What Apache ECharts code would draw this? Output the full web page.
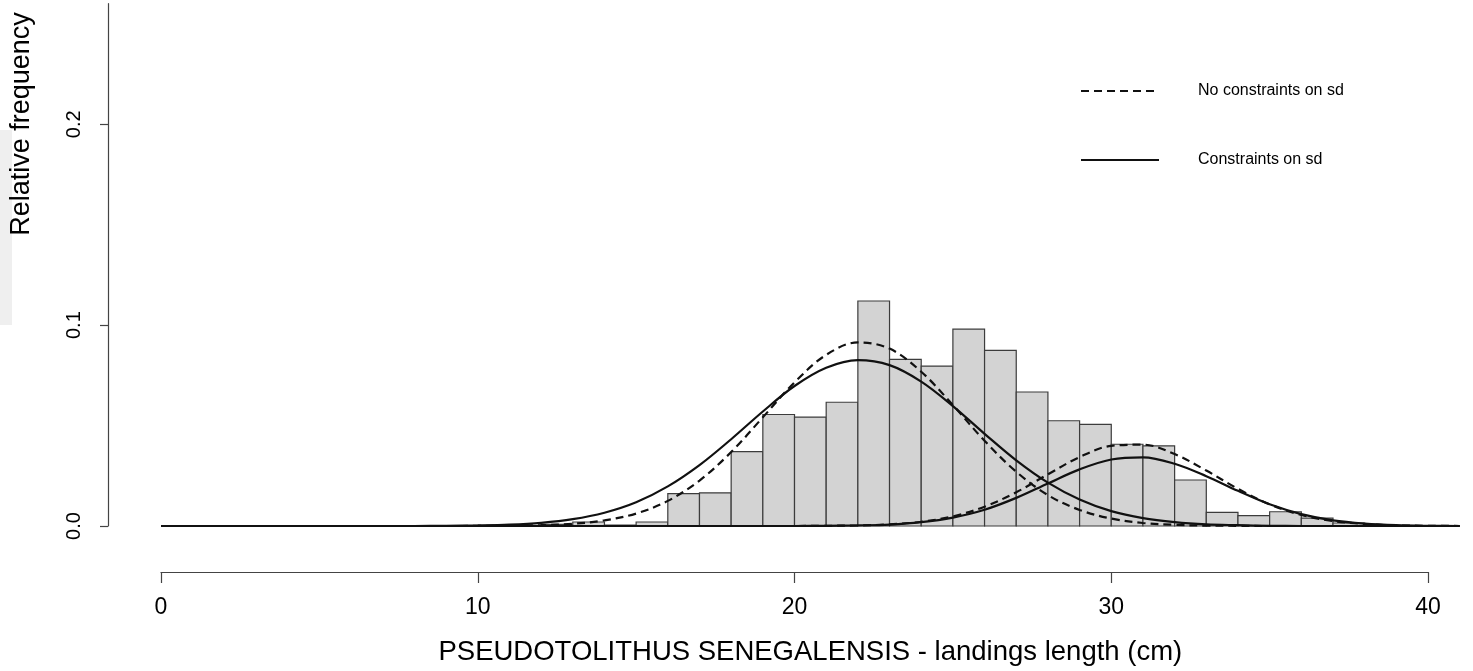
<!DOCTYPE html>
<html>
<head>
<meta charset="utf-8">
<script src="https://cdn.jsdelivr.net/npm/echarts@6/dist/echarts.min.js"></script>
<style>
html,body{margin:0;padding:0;background:#fff;overflow:hidden;}
#chart{width:1473px;height:671px;}
</style>
</head>
<body>
<div id="chart"></div>
<script>
// ---- data ----
const binStart = [12,13,14,15,16,17,18,19,20,21,22,23,24,25,26,27,28,29,30,31,32,33,34,35,36,37];
const relFreq  = [0.0008,0.002,0.0005,0.002,0.0161,0.0165,0.037,0.0555,0.0542,0.0616,0.112,0.0829,0.0796,0.098,0.0874,0.0667,0.0524,0.0506,0.0407,0.0399,0.0229,0.0068,0.0052,0.0071,0.0039,0.0015];

const curveX = [0,1,2,3,4,5,6,7,8,9,10,11,12,13,14,15,16,17,18,19,20,21,22,23,24,25,26,27,28,29,30,31,32,33,34,35,36,37,38,39,40,41];
// dashed: no constraints on sd
const freeComp1 = [0,0,0,0,0,0,0,0,0,0,0.00004,0.00013,0.0004,0.0011,0.0028,0.0062,0.0125,0.0226,0.0368,0.0541,0.0715,0.0852,0.0914,0.0883,0.0768,0.0602,0.0424,0.0270,0.0154,0.0080,0.0037,0.0015,0.0006,0.0002,0.0001,0,0,0,0,0,0,0];
const freeComp2 = [0,0,0,0,0,0,0,0,0,0,0,0,0,0,0,0,0,0,0,0,0,0.0001,0.0003,0.0008,0.0021,0.0048,0.0096,0.0168,0.0257,0.0343,0.0399,0.0405,0.0358,0.0276,0.0185,0.0108,0.0055,0.0025,0.0010,0.0003,0.0001,0];
// solid: constraints on sd
const consComp1 = [0,0,0,0,0,0,0,0,0,0.0001,0.0003,0.0007,0.0016,0.0034,0.0066,0.0118,0.0197,0.0303,0.0432,0.0570,0.0697,0.0788,0.0826,0.0801,0.0719,0.0597,0.0459,0.0327,0.0216,0.0132,0.0074,0.0039,0.0019,0.0008,0.0004,0.0001,0,0,0,0,0,0];
const consComp2 = [0,0,0,0,0,0,0,0,0,0,0,0,0,0,0,0,0,0,0,0,0,0.0001,0.0003,0.0007,0.0019,0.0042,0.0081,0.0140,0.0212,0.0282,0.0331,0.0342,0.0310,0.0248,0.0175,0.0108,0.0059,0.0028,0.0012,0.0004,0.0001,0];

const xTicks = [0,10,20,30,40];
const yTicks = [0.0,0.1,0.2];
const nameFree = 'No constraints on sd';
const nameCons = 'Constraints on sd';
const xTitle = 'PSEUDOTOLITHUS SENEGALENSIS - landings length (cm)';
const yTitle = 'Relative frequency';

// ---- build ----
const FONT = "'Liberation Sans', Arial, Helvetica, sans-serif";
const binWidth = binStart[1] - binStart[0];
const histData = binStart.map((b, i) => [b, relFreq[i]]);
const pair = (ys) => curveX.map((x, i) => [x, ys[i]]);

const chart = echarts.init(document.getElementById('chart'), null, {renderer: 'canvas'});

const lineBase = (name, data, dashed) => ({
  name: name, type: 'line', xAxisIndex: 0, yAxisIndex: 0, data: data,
  showSymbol: false, symbol: 'none', smooth: 0.35, silent: true, z: 5,
  lineStyle: {color: '#111', width: 2.2, type: dashed ? [8, 5] : 'solid'},
  itemStyle: {color: '#111'}
});

chart.setOption({
  animation: false,
  backgroundColor: '#fff',
  grid: [
    {left: 161, right: 13.3, top: 3.7, bottom: 133},
    {left: 161, width: 1267, top: 3.7, bottom: 133}
  ],
  xAxis: [
    {gridIndex: 0, type: 'value', min: 0, max: 41, offset: 34,
      axisLine: {show: false, onZero: false}, axisTick: {show: false}, axisLabel: {show: false},
      splitLine: {show: false},
      name: xTitle, nameLocation: 'middle', nameGap: 78,
      nameTextStyle: {fontFamily: FONT, fontSize: 27.5, color: '#000'}},
    {gridIndex: 1, type: 'value', min: 0, max: 40, interval: 10, offset: 34,
      axisLine: {show: true, onZero: false, lineStyle: {color: '#444', width: 1.2}},
      axisTick: {show: true, length: 11, lineStyle: {color: '#444', width: 1.2}},
      axisLabel: {show: true, margin: 24, fontFamily: FONT, fontSize: 23, color: '#000',
        formatter: (v) => xTicks.includes(v) ? String(v) : ''},
      splitLine: {show: false}}
  ],
  yAxis: [
    {gridIndex: 0, type: 'value', min: 0, max: 0.26, interval: 0.1, offset: 53,
      axisLine: {show: true, onZero: false, lineStyle: {color: '#444', width: 1.2}},
      axisTick: {show: true, length: 8, lineStyle: {color: '#444', width: 1.2}},
      axisLabel: {show: true, rotate: 90, margin: 24, fontFamily: FONT, fontSize: 20, color: '#000',
        showMaxLabel: false,
        formatter: (v) => { const hit = yTicks.find(t => Math.abs(t - v) < 1e-9); return hit === undefined ? '' : hit.toFixed(1); }},
      splitLine: {show: false}},
    {gridIndex: 1, type: 'value', min: 0, max: 0.26, show: false, axisLine: {onZero: false}}
  ],
  legend: {
    orient: 'vertical', left: 1080, top: 83, padding: 0,
    itemWidth: 78, itemHeight: 18, itemGap: 53,
    data: [nameFree, nameCons],
    itemStyle: {color: 'transparent', borderWidth: 0, opacity: 0},
    textStyle: {fontFamily: FONT, fontSize: 16, color: '#000', padding: [0, 0, 0, 34]},
    selectedMode: false
  },
  graphic: [
    {type: 'rect', left: 0, top: 130, shape: {width: 12, height: 195}, style: {fill: '#efefef'}, silent: true, z: -1},
    {type: 'text', x: 22, y: 124, rotation: Math.PI / 2,
     style: {text: yTitle, fontFamily: FONT, fontSize: 27, fill: '#000', align: 'center', verticalAlign: 'middle'}}
  ],
  series: [
    {name: 'hist', type: 'custom', xAxisIndex: 0, yAxisIndex: 0, data: histData, silent: true, z: 2,
      renderItem: function (params, api) {
        const x0 = api.value(0), h = api.value(1);
        const p1 = api.coord([x0, h]);
        const p2 = api.coord([x0 + binWidth, 0]);
        return {type: 'rect', shape: {x: p1[0], y: p1[1], width: p2[0] - p1[0], height: p2[1] - p1[1]},
          style: {fill: '#d3d3d3', stroke: '#3c3c3c', lineWidth: 1.2}};
      }},
    lineBase(nameFree, pair(freeComp1), true),
    lineBase(nameFree, pair(freeComp2), true),
    lineBase(nameCons, pair(consComp1), false),
    lineBase(nameCons, pair(consComp2), false)
  ]
});
</script>
</body>
</html>
